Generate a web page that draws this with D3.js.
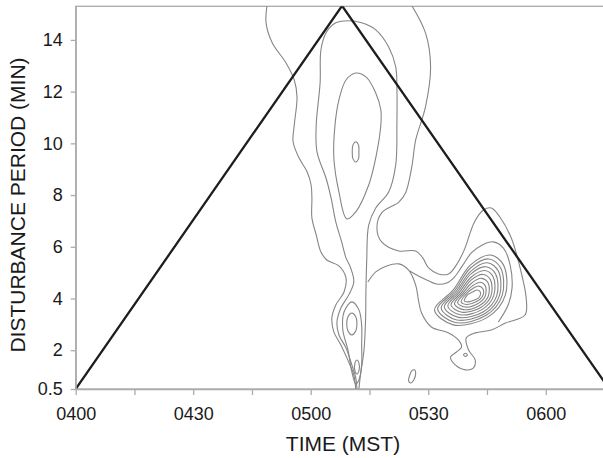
<!DOCTYPE html>
<html>
<head>
    <meta charset="utf-8"/>
    <style>
        body{ margin: 0; background: #fff; }
        text{
            font-family: "Liberation Sans", Arial, sans-serif;
            fill: #1a1a1a;
        }
        .axis path, .axis line{ stroke: #ababab; stroke-width: 1.3; }
        .axis text{ font-size: 18px; }
        .title{ font-size: 21px; }
        .contour{ fill: none; stroke: #858585; stroke-width: 1.1; }
        .cone{ fill: none; stroke: #1e1e1e; stroke-width: 2.3; }
    </style>
</head>
<body>
<svg id="chart"></svg>
<script src="https://d3js.org/d3.v7.min.js"></script>
<script>
    // time is in minutes after 0400 MST, period in minutes
    const timeTicks = [0, 15, 30, 45, 60, 75, 90, 105, 120, 135];
    const timeLabels = ['0400', '', '0430', '', '0500', '', '0530', '', '0600', ''];
    const periodTicks = [0.5, 2, 4, 6, 8, 10, 12, 14];
    const periodLabels = ['0.5', '2', '4', '6', '8', '10', '12', '14'];

    // cone of influence
    const cone = [[0, 0.5], [68, 15.32], [136.2, 0.5]];

    // contours, [time, period]
    const outerLeft = [[48.9,15.4],[48.6,14.66],[50.2,13.88],[53.7,13.11],[55.8,12.45],[56.5,11.80],[55.8,10.71],[55.5,10.06],[57.0,9.44],[59.1,8.89],[60.1,8.39],[60.3,7.89],[60.3,7.12],[61.4,6.46],[62.6,5.80],[64.1,5.49],[67.2,5.26],[69.0,4.79],[68.5,4.25],[66.4,3.75],[65.4,3.25],[65.9,2.71],[67.7,2.20],[69.7,1.54],[71.0,1.04],[71.5,0.5]];
    const outerRight = [[85.5,15.4],[89.3,14.27],[90.6,12.96],[89.3,11.41],[86.8,10.13],[85.8,9.09],[84.2,8.08],[82.5,7.73],[78.1,7.31],[76.9,6.73],[78.1,6.19],[82.5,5.84],[86.8,5.84],[88.6,5.57],[90.1,5.18],[92.6,4.95],[95.2,4.95],[97.2,5.30],[99.2,5.88],[101.8,6.96],[104.1,7.42],[106.1,7.50],[108.1,7.19],[111.2,6.34],[113.7,5.03],[115.0,4.02],[114.7,3.36],[109.7,3.05],[106.1,2.78],[102.0,2.67],[99.7,2.47],[100.3,2.01],[102.0,1.62],[101.5,1.31],[99.5,1.24],[96.9,1.43],[95.7,1.74],[97.2,1.93],[98.5,2.12],[97.7,2.40],[95.2,2.67],[90.8,2.90],[88.3,3.44],[87.5,3.94],[86.8,4.52],[85.0,5.10],[82.5,5.34],[79.4,5.26],[76.6,5.03],[74.6,4.64]];
    const innerColumn = [[71.8,0.5],[71.5,0.93],[70.5,1.43],[69.0,2.09],[67.2,2.59],[66.7,3.09],[67.7,3.63],[69.7,4.14],[71.0,4.64],[70.2,5.18],[69.0,5.57],[67.9,6.19],[66.4,6.96],[65.2,7.89],[63.9,8.66],[61.6,9.67],[61.4,10.71],[62.4,12.34],[62.6,13.61],[63.9,14.27],[66.4,14.66],[69.7,14.74],[73.0,14.66],[76.6,14.39],[79.9,13.73],[81.7,12.96],[82.0,12.18],[82.0,10.71],[81.7,9.17],[79.9,8.12],[76.6,7.50],[74.8,6.84],[74.3,5.49],[74.1,4.33],[74.0,3.17],[73.6,2.01],[72.7,1.04],[72.3,0.5]];
    const neckLine = [[85.25,5.06],[87.5,4.87],[89.6,4.72],[92.1,4.56],[94.7,4.60],[96.7,4.83],[98.7,5.26],[101.0,5.76],[103.8,6.07],[106.6,6.19],[109.2,5.95],[110.9,5.30],[111.4,4.41],[110.4,3.75],[107.9,3.09]];
    const peakLoop = [[66.2,10.71],[67.2,11.68],[69.0,12.45],[71.5,12.72],[74.1,12.57],[76.6,11.95],[77.9,11.29],[77.9,10.71],[76.6,9.44],[74.8,8.39],[71.5,7.35],[69.2,7.08],[67.2,8.12],[65.9,9.44]];
    const peakCore = [[71.5,10.06],[72.2,9.94],[72.3,9.67],[72.2,9.40],[71.5,9.28],[70.8,9.40],[70.6,9.67],[70.8,9.94]];
    const spikeRings = [
        [[70.5,3.44],[71.5,3.29],[71.8,3.01],[71.5,2.74],[70.5,2.59],[69.5,2.74],[69.2,3.01],[69.5,3.29]],
        [[70.5,3.87],[72.3,3.56],[73.0,2.98],[73.0,2.20],[73.0,1.43],[72.3,0.85],[71.5,0.69],[70.5,1.16],[69.5,2.01],[68.2,2.78],[68.5,3.48]],
        [[71.8,1.62],[72.3,1.51],[72.3,1.20],[71.8,1.08],[71.3,1.20],[71.3,1.51]]
    ];
    const blobRings = [
        [[99.2,3.90],[100.0,4.14],[101.3,4.25],[102.5,4.33],[103.3,4.25],[103.1,4.06],[101.8,3.94],[100.3,3.87]],
        [[98.4,3.87],[99.6,4.16],[101.2,4.37],[102.9,4.48],[104.0,4.37],[103.8,4.07],[102.2,3.87],[99.8,3.77]],
        [[97.5,3.83],[99.2,4.18],[101.2,4.48],[103.3,4.63],[104.6,4.48],[104.5,4.08],[102.6,3.80],[99.4,3.67]],
        [[96.7,3.79],[98.8,4.20],[101.1,4.60],[103.6,4.78],[105.3,4.60],[105.3,4.08],[103.0,3.72],[99.0,3.57]],
        [[95.8,3.75],[98.4,4.22],[101.0,4.72],[104.0,4.93],[105.9,4.72],[106.0,4.09],[103.4,3.65],[98.6,3.47]],
        [[95.0,3.71],[98.0,4.25],[101.0,4.83],[104.4,5.08],[106.6,4.83],[106.7,4.10],[103.8,3.58],[98.1,3.37]],
        [[94.1,3.67],[97.6,4.27],[100.9,4.95],[104.7,5.23],[107.2,4.95],[107.5,4.11],[104.2,3.50],[97.7,3.27]],
        [[93.3,3.63],[97.2,4.29],[100.9,5.06],[105.1,5.38],[107.9,5.06],[108.2,4.12],[104.6,3.43],[97.3,3.17]],
        [[92.4,3.60],[96.8,4.31],[100.8,5.18],[105.5,5.53],[108.5,5.18],[108.9,4.13],[104.9,3.36],[96.9,3.07]],
        [[91.6,3.56],[96.4,4.33],[100.8,5.30],[105.9,5.68],[109.2,5.30],[109.7,4.14],[105.3,3.29],[96.4,2.98]]
    ];
    const islands = [
        [[86.5,1.24],[86.8,1.12],[86.3,0.85],[85.5,0.73],[85.0,0.81],[85.3,1.04],[85.8,1.20]],
        [[99.0,1.82],[99.5,1.88],[100.0,1.82],[99.5,1.76]]
    ];

    // chart box (plotTop etc. so we don't clash with window.top)
    var chartWidth = 603, chartHeight = 458;
    var plotLeft = 75.7, plotRight = 604.5, plotTop = 6.3, plotBottom = 389;

    var svg = d3.select('#chart')
        .attr('width', chartWidth)
        .attr('height', chartHeight);

    var x = d3.scaleLinear().domain([0, 135]).range([plotLeft, plotRight]);
    var y = d3.scaleLinear().domain([0.5, 15.3]).range([plotBottom, plotTop]);

    svg.append('clipPath').attr('id', 'plot-clip')
        .append('rect')
        .attr('x', plotLeft).attr('y', plotTop)
        .attr('width', plotRight - plotLeft).attr('height', plotBottom - plotTop);

    // frame
    svg.append('rect')
        .attr('x', plotLeft).attr('y', plotTop)
        .attr('width', plotRight - plotLeft).attr('height', plotBottom - plotTop)
        .attr('fill', 'none')
        .attr('stroke', '#ababab')
        .attr('stroke-width', 1.3);

    var plot = svg.append('g').attr('clip-path', 'url(#plot-clip)');

    var openLine = d3.line().x(d => x(d[0])).y(d => y(d[1])).curve(d3.curveCatmullRom);
    var closedLine = d3.line().x(d => x(d[0])).y(d => y(d[1])).curve(d3.curveCatmullRomClosed);

    // open contour lines
    plot.selectAll('.open')
        .data([outerLeft, outerRight, innerColumn, neckLine])
        .enter().append('path')
        .attr('class', 'contour open')
        .attr('d', openLine);

    // closed contour loops
    var loops = [peakLoop, peakCore].concat(spikeRings, blobRings, islands);
    plot.selectAll('.loop')
        .data(loops)
        .enter().append('path')
        .attr('class', 'contour loop')
        .attr('d', closedLine);

    plot.append('path')
        .datum(cone)
        .attr('class', 'cone')
        .attr('d', d3.line().x(d => x(d[0])).y(d => y(d[1])));

    // axes
    svg.append('g')
        .attr('class', 'axis')
        .attr('transform', 'translate(' + plotLeft + ',0)')
        .call(d3.axisLeft(y)
            .tickValues(periodTicks)
            .tickSize(5)
            .tickSizeOuter(0)
            .tickPadding(8)
            .tickFormat((d, i) => periodLabels[i]));

    svg.append('g')
        .attr('class', 'axis')
        .attr('transform', 'translate(0,' + plotBottom + ')')
        .call(d3.axisBottom(x)
            .tickValues(timeTicks)
            .tickSize(6)
            .tickSizeOuter(0)
            .tickPadding(12)
            .tickFormat((d, i) => timeLabels[i]));

    svg.append('text')
        .attr('class', 'title')
        .attr('text-anchor', 'middle')
        .attr('x', 343)
        .attr('y', 451)
        .text('TIME (MST)');

    svg.append('text')
        .attr('class', 'title')
        .attr('text-anchor', 'middle')
        .attr('transform', 'translate(25,205) rotate(-90)')
        .text('DISTURBANCE PERIOD (MIN)');
</script>
</body>
</html>
